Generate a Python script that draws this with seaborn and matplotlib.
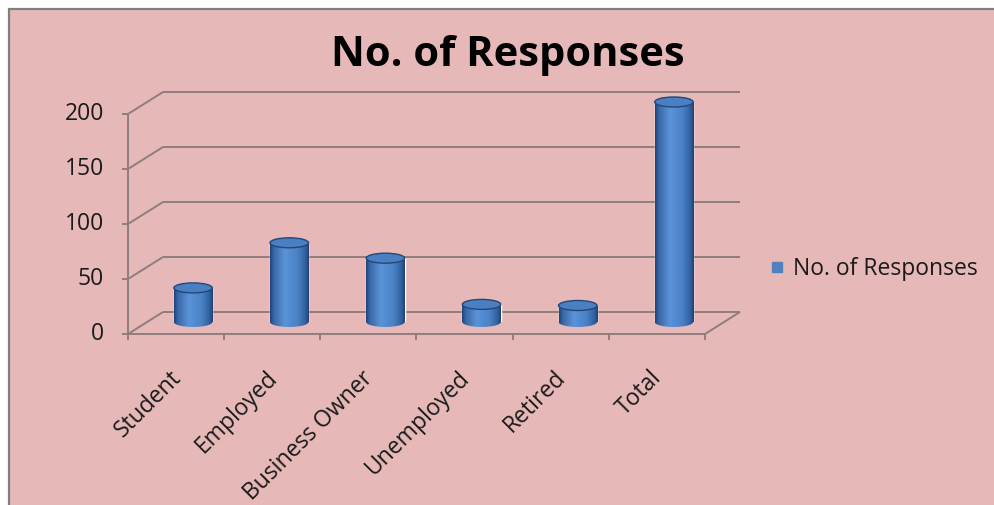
import numpy as np
import pandas as pd
import matplotlib
matplotlib.use("Agg")
import matplotlib.pyplot as plt
from matplotlib.patches import Ellipse, Rectangle
from matplotlib.lines import Line2D
from matplotlib.colors import LinearSegmentedColormap
import seaborn as sns

# ---- data -------------------------------------------------------------
categories = ["Student", "Employed", "Business Owner", "Unemployed", "Retired", "Total"]
responses = [31, 72, 58, 16, 15, 200]
y_ticks = [0, 50, 100, 150, 200]
series_name = "No. of Responses"
chart_title = "No. of Responses"

# ---- style ------------------------------------------------------------
sns.set_style("white")
plt.rcParams["font.family"] = ["Open Sans", "DejaVu Sans"]

W, H, DPI = 995, 505, 100
PINK = "#E6B9B8"
BAR = "#4F81BD"
GRID = "#8f7d7d"
TXT = "#1a1a1a"
FS = 16.5

fig = plt.figure(figsize=(W / DPI, H / DPI), dpi=DPI, facecolor="white")
fig.add_artist(Rectangle((9 / W, -0.02), 1.05, (H - 9) / H + 0.02,
                         transform=fig.transFigure, facecolor=PINK,
                         edgecolor="#808080", lw=1.6, zorder=0))

# plotting plane located at the mid depth of the 3-D box (pixel frame)
left_px, right_px, top_px, bot_px = 145, 722, 102, 322
ax = fig.add_axes([left_px / W, 1 - bot_px / H,
                   (right_px - left_px) / W, (bot_px - top_px) / H])
ax.set_facecolor("none")

df = pd.DataFrame({"category": categories, "responses": responses})
sns.barplot(data=df, x="category", y="responses", width=0.4, color=BAR,
            saturation=1, ax=ax, zorder=3)

n = len(categories)
ymax = y_ticks[-1]
x0, x1 = -0.5, n - 0.5

ux = (right_px - left_px) / n        # pixels per category
uy = (bot_px - top_px) / ymax        # pixels per response

# depth offsets of the front and back planes, in data units
fx, fy = -17 / ux, -12 / uy
bx, by = 18 / ux, 10 / uy

line_kw = dict(color=GRID, lw=1.4, clip_on=False, zorder=1,
               solid_capstyle="butt")
for v in y_ticks:
    ax.plot([x0 + bx, x1 + bx], [v + by, v + by], **line_kw)      # back wall
    ax.plot([x0 + fx, x0 + bx], [v + fy, v + by], **line_kw)      # side wall
    ax.plot([x0 + fx - 6 / ux, x0 + fx], [v + fy, v + fy], **line_kw)
    ax.text(x0 + fx - 24 / ux, v + fy, f"{v}", ha="right", va="center",
            fontsize=FS, color=TXT)

# front vertical axis and floor edges
ax.plot([x0 + fx, x0 + fx], [fy, ymax + fy], **line_kw)
ax.plot([x0 + fx, x1 + fx], [fy, fy], **line_kw)
ax.plot([x1 + fx, x1 + bx], [fy, by], **line_kw)
for i in range(n + 1):
    ax.plot([x0 + i + fx] * 2, [fy, fy - 6 / uy], **line_kw)

for i, cat in enumerate(categories):
    ax.text(i + fx + 10 / ux, fy - 32 / uy, cat, rotation=45,
            ha="right", va="top", fontsize=FS, color=TXT)

# cylinder shading
cyl = LinearSegmentedColormap.from_list(
    "cyl", [(0.0, "#1f4275"), (0.1, "#3868a8"), (0.38, "#5b93d8"),
            (0.7, "#4a82c8"), (0.9, "#3263a2"), (1.0, "#21416f")])
grad = np.linspace(0, 1, 256).reshape(1, -1)
eh = 10 / uy
bars = list(ax.patches)
for bar in bars:
    x, w, h = bar.get_x(), bar.get_width(), bar.get_height()
    cx = x + w / 2
    im = ax.imshow(grad, cmap=cyl, aspect="auto", interpolation="bilinear",
                   extent=(x, x + w, 0, h), zorder=3.1)
    im.set_clip_path(bar)
    base = Ellipse((cx, 0), w, eh, facecolor="none", edgecolor="none",
                   clip_on=False)
    ax.add_patch(base)
    im2 = ax.imshow(grad, cmap=cyl, aspect="auto", interpolation="bilinear",
                    extent=(x, x + w, -eh / 2, eh / 2), zorder=3.0)
    im2.set_clip_path(base)
    im2.set_clip_box(fig.bbox)
    ax.add_patch(Ellipse((cx, h), w, eh, facecolor="#4a7fc2",
                         edgecolor="#23477a", lw=1.0, zorder=3.3,
                         clip_on=False))

ax.set_xlim(x0, x1)
ax.set_ylim(0, ymax)
ax.axis("off")

ax.legend(handles=[Line2D([], [], ls="none", marker="s", markersize=7,
                          markerfacecolor=BAR, markeredgecolor=BAR)],
          labels=[series_name], loc="center left",
          bbox_to_anchor=(747 / W, 1 - 269 / H),
          bbox_transform=fig.transFigure, frameon=False,
          handlelength=0.8, handletextpad=0.3,
          fontsize=FS, labelcolor=TXT)

fig.text(508 / W, 1 - 56 / H, chart_title, ha="center", va="center",
         fontsize=30, fontweight="bold", color="black")

fig.savefig("out.png", dpi=DPI, facecolor="white")
